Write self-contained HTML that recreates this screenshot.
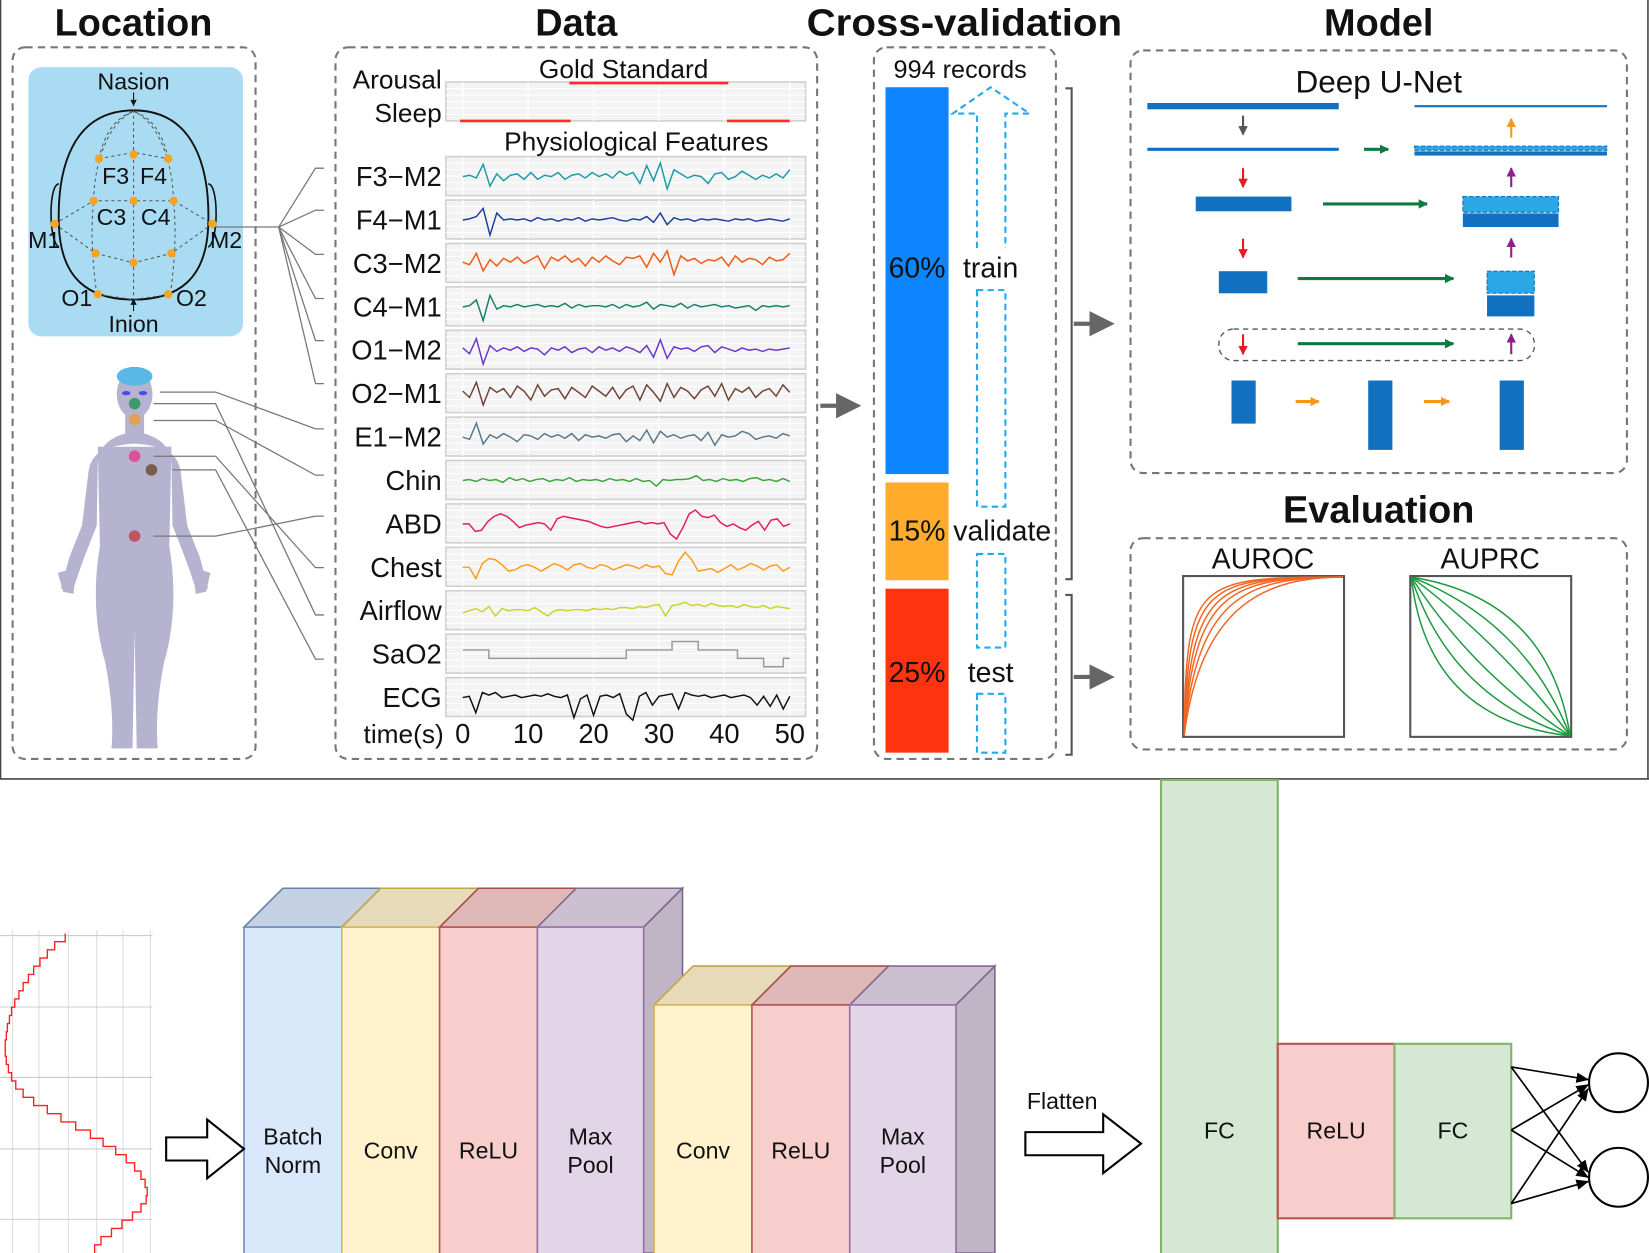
<!DOCTYPE html>
<html><head><meta charset="utf-8"><style>
html,body{margin:0;padding:0;background:#fff;}
svg{display:block;font-family:"Liberation Sans",Arial,sans-serif;}
</style></head><body>
<svg id="fig" width="1649" height="1253" viewBox="0 0 1568 1192" preserveAspectRatio="none" xmlns="http://www.w3.org/2000/svg">
<defs>
<marker id="ag" markerWidth="6" markerHeight="6" refX="5" refY="3" orient="auto"><path d="M0,0L6,3L0,6z" fill="#666"/></marker>
<marker id="sg" markerUnits="userSpaceOnUse" markerWidth="9" markerHeight="9" refX="8" refY="4.5" orient="auto"><path d="M0,0L9,4.5L0,9z" fill="#555"/></marker>
<marker id="sr" markerUnits="userSpaceOnUse" markerWidth="9" markerHeight="9" refX="8" refY="4.5" orient="auto"><path d="M0,0L9,4.5L0,9z" fill="#e51c23"/></marker>
<marker id="sp" markerUnits="userSpaceOnUse" markerWidth="9" markerHeight="9" refX="8" refY="4.5" orient="auto"><path d="M0,0L9,4.5L0,9z" fill="#8e1f8e"/></marker>
<marker id="so" markerUnits="userSpaceOnUse" markerWidth="9" markerHeight="9" refX="8" refY="4.5" orient="auto"><path d="M0,0L9,4.5L0,9z" fill="#f39a1d"/></marker>
<marker id="sgr" markerUnits="userSpaceOnUse" markerWidth="9" markerHeight="9" refX="8" refY="4.5" orient="auto"><path d="M0,0L9,4.5L0,9z" fill="#0d7a3e"/></marker>
<marker id="ak" markerUnits="userSpaceOnUse" markerWidth="12" markerHeight="10" refX="11" refY="5" orient="auto"><path d="M0,0L12,5L0,10z" fill="#000"/></marker>
</defs>
<g>
<line x1="0.5" y1="0" x2="0.5" y2="741" stroke="#444" stroke-width="1.5"/>
<line x1="0" y1="741" x2="1568" y2="741" stroke="#444" stroke-width="1.5"/>
<line x1="1567" y1="0" x2="1567" y2="741" stroke="#444" stroke-width="1.5"/>
</g>
<g font-weight="bold" font-size="36" text-anchor="middle" fill="#111">
<text x="127" y="34">Location</text>
<text x="548" y="34">Data</text>
<text x="917" y="34" textLength="300" lengthAdjust="spacingAndGlyphs">Cross-validation</text>
<text x="1311" y="34">Model</text>
<text x="1311" y="497">Evaluation</text>
</g>
<g fill="none" stroke="#777" stroke-width="2" stroke-dasharray="7,5">
<rect x="12" y="45" width="231" height="677" rx="12"/>
<rect x="319" y="45" width="458" height="677" rx="12"/>
<rect x="831" y="45" width="173" height="677" rx="12"/>
<rect x="1075" y="48" width="472" height="402" rx="12"/>
<rect x="1075" y="512" width="472" height="201" rx="12"/>
</g>

<g>
<rect x="27" y="64" width="204" height="256" rx="12" fill="#a9dcf2"/>
<path d="M127,105 C185,105 200,160 198,215 C196,265 170,285 127,285 C84,285 58,265 56,215 C54,160 69,105 127,105Z" fill="none" stroke="#111" stroke-width="1.8"/>
<path d="M56,175 C46,175 46,230 56,235" fill="none" stroke="#111" stroke-width="1.5"/>
<path d="M198,175 C208,175 208,230 198,235" fill="none" stroke="#111" stroke-width="1.5"/>
<g fill="none" stroke="#555" stroke-width="1" stroke-dasharray="3,3">
<line x1="127" y1="92" x2="127" y2="290"/>
<path d="M94,151 C100,125 110,112 127,106 C144,112 154,125 160,151"/>
<path d="M89,191 C90,150 105,115 127,106 C149,115 164,150 165,191"/>
<path d="M92,280 C88,250 86,220 89,191 M162,280 C166,250 168,220 165,191"/>
<path d="M94,151 L127,145 L160,151"/>
<path d="M52,213 L89,191 L127,191 L165,191 L202,213"/>
<path d="M52,213 L91,241 L127,250 L163,241 L202,213"/>
<path d="M92,280 L127,285 L162,280"/>
</g>
<line x1="127" y1="88" x2="127" y2="100" stroke="#111"/><path d="M124,95 L127,101 L130,95" fill="#111"/>
<line x1="127" y1="285" x2="127" y2="296" stroke="#111"/><path d="M124,290 L127,284 L130,290" fill="#111"/>
<g fill="#f5a524">
<circle cx="94" cy="151" r="4"/><circle cx="127" cy="147" r="4"/><circle cx="160" cy="151" r="4"/>
<circle cx="89" cy="191" r="4"/><circle cx="127" cy="191" r="4"/><circle cx="165" cy="191" r="4"/>
<circle cx="52" cy="213" r="4"/><circle cx="202" cy="213" r="4"/>
<circle cx="91" cy="241" r="4"/><circle cx="127" cy="250" r="4"/><circle cx="163" cy="241" r="4"/>
<circle cx="93" cy="280" r="4"/><circle cx="160" cy="280" r="4"/>
</g>
<g font-size="22" fill="#111" text-anchor="middle">
<text x="127" y="85">Nasion</text><text x="127" y="316">Inion</text>
<text x="110" y="175">F3</text><text x="146" y="175">F4</text>
<text x="106" y="214">C3</text><text x="148" y="214">C4</text>
<text x="42" y="236">M1</text><text x="215" y="236">M2</text>
<text x="73" y="291">O1</text><text x="182" y="291">O2</text>
</g>
</g>

<g fill="#b6b3d1">
<ellipse cx="128" cy="375" rx="17" ry="23"/>
<rect x="119" y="390" width="18" height="30"/>
<path d="M128,410 C146,414 161,420 163,440 L164,500 C172,520 180,540 186,560 L198,560 L190,530 L178,500 L172,450 C170,432 158,424 128,422 C98,424 86,432 84,450 L78,500 L66,530 L58,560 L70,560 C76,540 84,520 92,500 L93,440 C95,420 110,414 128,410Z"/>
<path d="M93,425 L163,425 L161,520 C168,560 165,600 156,630 C150,660 148,690 150,712 L130,712 L128,600 L126,712 L106,712 C108,690 106,660 100,630 C91,600 88,560 95,520 Z"/>
<path d="M55,545 L72,540 L70,565 L60,563 Z M200,545 L184,540 L186,565 L196,563 Z"/>
<ellipse cx="128" cy="358" rx="17" ry="9" fill="#5bb8e6"/>
<ellipse cx="120" cy="374" rx="4" ry="2" fill="#4a4aee"/><ellipse cx="136" cy="374" rx="4" ry="2" fill="#4a4aee"/>
<circle cx="128" cy="384" r="5.5" fill="#3d9a6a"/>
<circle cx="128" cy="399" r="5.5" fill="#e2a057"/>
<circle cx="128" cy="434" r="5.5" fill="#dd4f96"/>
<circle cx="144" cy="447" r="5.5" fill="#7a5c4c"/>
<circle cx="128" cy="510" r="5.5" fill="#c0555e"/>
</g>

<g fill="none" stroke="#777" stroke-width="1.2">
<path d="M205,216 L265,216 L300,160 L308,160"/>
<path d="M265,216 L300,200 L308,200"/>
<path d="M265,216 L300,242 L308,242"/>
<path d="M265,216 L300,284 L308,284"/>
<path d="M265,216 L300,324 L308,324"/>
<path d="M265,216 L300,365 L308,365"/>
<path d="M152,373 L205,373 L300,408 L308,408"/>
<path d="M146,384 L205,384 L300,585 L308,585"/>
<path d="M146,400 L205,400 L300,452 L308,452"/>
<path d="M146,434 L205,434 L300,540 L308,540"/>
<path d="M164,447 L205,447 L300,627 L308,627"/>
<path d="M146,510 L205,510 L300,491 L308,491"/>
</g>

<g id="data-panels"></g>
<g font-size="25" fill="#111">
<text x="420" y="84" text-anchor="end">Arousal</text>
<text x="420" y="116" text-anchor="end">Sleep</text>
<text x="593" y="74" text-anchor="middle">Gold Standard</text>
<text x="605" y="143" text-anchor="middle">Physiological Features</text>
<text x="422" y="707" text-anchor="end">time(s)</text>
</g>
<line x1="780" y1="386" x2="815" y2="386" stroke="#666" stroke-width="4" marker-end="url(#ag)"/>

<g>
<text x="913" y="74" font-size="24" text-anchor="middle" fill="#111">994 records</text>
<rect x="842" y="83" width="60" height="368" fill="#0d85ff"/>
<rect x="842" y="459" width="60" height="93" fill="#ffab2b"/>
<rect x="842" y="560" width="60" height="156" fill="#ff330f"/>
<g fill="none" stroke="#22aaee" stroke-width="2" stroke-dasharray="6,4">
<path d="M929,236 L929,108 L906,108 L942,83 L979,108 L956,108 L956,236"/>
<rect x="929" y="276" width="27" height="206"/>
<rect x="929" y="527" width="27" height="89"/>
<rect x="929" y="660" width="27" height="56"/>
</g>
<g font-size="27" fill="#111" text-anchor="middle">
<text x="872" y="264">60%</text><text x="942" y="264">train</text>
<text x="872" y="514">15%</text><text x="953" y="514">validate</text>
<text x="872" y="649">25%</text><text x="942" y="649">test</text>
</g>
<g stroke="#555" stroke-width="2" fill="none">
<path d="M1013,84 L1019,84 L1019,551 L1013,551 M1013,566 L1019,566 L1019,718 L1013,718"/>
</g>
<line x1="1021" y1="308" x2="1056" y2="308" stroke="#666" stroke-width="4" marker-end="url(#ag)"/>
<line x1="1021" y1="644" x2="1056" y2="644" stroke="#666" stroke-width="4" marker-end="url(#ag)"/>
</g>

<g>
<text x="1311" y="88" font-size="30" text-anchor="middle" fill="#111">Deep U-Net</text>
<rect x="1091" y="98" width="182" height="6" fill="#1170c0"/>
<line x1="1345" y1="101" x2="1528" y2="101" stroke="#1170c0" stroke-width="2"/>
<line x1="1091" y1="142" x2="1273" y2="142" stroke="#1170c0" stroke-width="3"/>
<rect x="1345" y="139" width="183" height="4" fill="#2ba7e6" stroke="#1170c0" stroke-dasharray="4,2"/>
<rect x="1345" y="144" width="183" height="4" fill="#1170c0"/>
<rect x="1137" y="187" width="91" height="14" fill="#1170c0"/>
<rect x="1391" y="187" width="91" height="15" fill="#2ba7e6" stroke="#1170c0" stroke-dasharray="4,2"/>
<rect x="1391" y="203" width="91" height="13" fill="#1170c0"/>
<rect x="1159" y="258" width="46" height="21" fill="#1170c0"/>
<rect x="1414" y="258" width="45" height="21" fill="#2ba7e6" stroke="#1170c0" stroke-dasharray="4,2"/>
<rect x="1414" y="281" width="45" height="20" fill="#1170c0"/>
<rect x="1159" y="313" width="300" height="30" rx="14" fill="none" stroke="#555" stroke-width="1.3" stroke-dasharray="5,4"/>
<rect x="1171" y="362" width="23" height="41" fill="#1170c0"/>
<rect x="1301" y="362" width="23" height="66" fill="#1170c0"/>
<rect x="1426" y="362" width="23" height="66" fill="#1170c0"/>
<g stroke-width="2">
<line x1="1182" y1="110" x2="1182" y2="128" stroke="#555" marker-end="url(#sg)"/>
<line x1="1437" y1="131" x2="1437" y2="113" stroke="#f39a1d" marker-end="url(#so)"/>
<line x1="1182" y1="160" x2="1182" y2="178" stroke="#e51c23" marker-end="url(#sr)"/>
<line x1="1437" y1="178" x2="1437" y2="160" stroke="#8e1f8e" marker-end="url(#sp)"/>
<line x1="1182" y1="227" x2="1182" y2="245" stroke="#e51c23" marker-end="url(#sr)"/>
<line x1="1437" y1="245" x2="1437" y2="227" stroke="#8e1f8e" marker-end="url(#sp)"/>
<line x1="1182" y1="318" x2="1182" y2="337" stroke="#e51c23" marker-end="url(#sr)"/>
<line x1="1437" y1="337" x2="1437" y2="318" stroke="#8e1f8e" marker-end="url(#sp)"/>
<line x1="1297" y1="142" x2="1320" y2="142" stroke="#0d7a3e" stroke-width="3" marker-end="url(#sgr)"/>
<line x1="1258" y1="194" x2="1357" y2="194" stroke="#0d7a3e" stroke-width="3" marker-end="url(#sgr)"/>
<line x1="1234" y1="265" x2="1382" y2="265" stroke="#0d7a3e" stroke-width="3" marker-end="url(#sgr)"/>
<line x1="1234" y1="327" x2="1382" y2="327" stroke="#0d7a3e" stroke-width="3" marker-end="url(#sgr)"/>
<line x1="1232" y1="382" x2="1254" y2="382" stroke="#f39a1d" stroke-width="3" marker-end="url(#so)"/>
<line x1="1354" y1="382" x2="1378" y2="382" stroke="#f39a1d" stroke-width="3" marker-end="url(#so)"/>
</g>
</g>

<g>
<text x="1201" y="541" font-size="27" text-anchor="middle" fill="#111">AUROC</text>
<text x="1417" y="541" font-size="27" text-anchor="middle" fill="#111">AUPRC</text>
<rect x="1125" y="548" width="153" height="153" fill="#fff" stroke="#555" stroke-width="2"/>
<rect x="1341" y="548" width="153" height="153" fill="#fff" stroke="#555" stroke-width="2"/>
<g id="roc" fill="none" stroke="#f26522" stroke-width="1.4"></g>
<g id="prc" fill="none" stroke="#1a9a3e" stroke-width="1.4"></g>
</g>

<g id="steps"></g>
<g id="blocks"></g>
<g fill="#fff" stroke="#000" stroke-width="2">
<path d="M158,1082 L197,1082 L197,1065 L232,1093 L197,1121 L197,1104 L158,1104 Z"/>
<path d="M975,1077 L1049,1077 L1049,1060 L1085,1088 L1049,1116 L1049,1099 L975,1099 Z"/>
</g>
<text x="1010" y="1055" font-size="22" text-anchor="middle" fill="#111">Flatten</text>
<g>
<circle cx="1539" cy="1030" r="28" fill="#fff" stroke="#000" stroke-width="2"/>
<circle cx="1539" cy="1120" r="28" fill="#fff" stroke="#000" stroke-width="2"/>
<g stroke="#000" stroke-width="1.6" marker-end="url(#ak)">
<line x1="1437" y1="1015" x2="1510" y2="1027"/><line x1="1437" y1="1015" x2="1510" y2="1115"/>
<line x1="1437" y1="1075" x2="1510" y2="1032"/><line x1="1437" y1="1075" x2="1510" y2="1120"/>
<line x1="1437" y1="1145" x2="1510" y2="1036"/><line x1="1437" y1="1145" x2="1510" y2="1124"/>
</g>
</g>
</svg>
<script>
const NS="http://www.w3.org/2000/svg";
function mk(tag,attrs,parent){const e=document.createElementNS(NS,tag);for(const k in attrs)e.setAttribute(k,attrs[k]);parent.appendChild(e);return e;}

const signalNames=["F3−M2","F4−M1","C3−M2","C4−M1","O1−M2","O2−M1","E1−M2","Chin","ABD","Chest","Airflow","SaO2","ECG"];
const signalColors=["#1a9ca8","#1a3fa0","#f05a10","#17806a","#6a35c9","#6e4535","#557788","#3aa53a","#e8195a","#ff9a1a","#c8d42a","#999999","#111111"];
const sF3=[0,.1,-.1,.9,-.7,.2,-.3,.1,.2,-.2,.3,-.2,.1,0,.3,-.2,.1,.2,-.1,.3,0,.2,-.1,.4,.1,.3,-.5,.8,-.3,1,-.9,.5,.2,-.1,.1,0,-.5,.2,.3,-.2,0,.4,.1,-.2,.1,-.1,.2,-.1,.5];
const sF4=[0,.1,.3,1,-1.3,.6,0,.1,0,.1,-.1,.2,0,.1,-.1,.1,0,.2,-.1,.1,0,.1,.2,0,-.1,.1,0,.3,-.2,.6,-.4,.2,0,.1,-.1,.1,0,.1,0,-.1,.1,0,.1,-.1,0,.1,0,-.1,.1];
const sC3=[.1,-.1,.8,-.6,.3,-.2,.4,.1,.5,0,.3,.6,-.4,.5,.2,.6,.1,.4,-.2,.5,.1,.6,.2,-.1,.5,.4,.6,-.3,.8,.1,1,-.9,.6,.2,.4,0,.3,.2,.5,-.2,.6,.1,.4,.3,-.1,.5,.2,.3,.8];
const sC4=[0,.1,.6,-1.2,1,-.2,.1,0,.2,0,.1,.2,0,.1,0,.3,-.1,.2,0,.1,.1,0,.2,-.1,.2,0,.1,.4,-.2,.2,.1,0,.3,-.1,.2,0,.1,.2,0,.1,-.1,0,.1,-.3,.1,0,.1,0,.1];
const sO1=[.2,-.3,1,-1.2,.4,-.1,.2,0,.3,-.1,.2,.1,-.4,.2,0,.3,-.2,.1,.2,-.2,.3,0,.2,-.1,.3,.1,-.2,.4,-.6,.9,-.7,.3,.1,.2,-.1,.3,.4,-.2,.3,.1,-.1,.2,0,.1,-.1,.1,0,.1,.2];
const sO2=[.2,-.3,.9,-.9,.5,.1,.4,-.3,.6,.2,-.5,.7,-.2,.3,.4,-.4,.5,.1,-.3,.6,.2,-.2,.5,-.4,.3,.6,-.5,.7,.1,-.6,.8,-.3,.5,.2,-.4,.3,.6,-.2,.8,-.5,.4,.1,.5,-.3,.2,.4,-.2,.7,.1];
const sE1=[0,-.2,1.2,-.6,.2,-.1,.3,0,-.4,.2,.1,-.2,.3,0,.2,-.1,.3,-.3,.2,0,.1,-.1,.2,.3,-.4,.1,-.3,.6,-.5,.5,0,.2,-.1,.1,.2,-.3,.4,-.7,.2,0,.1,.5,.3,-.2,0,.1,-.1,.3,.1];
const sChin=[0,.1,-.1,.2,0,.1,-.2,.3,0,.2,-.1,.1,.2,-.1,.1,0,.3,-.1,.1,0,.1,-.1,.2,0,.1,-.1,.2,-.1,0,-.6,.1,0,.1,.1,.2,.5,0,.1,-.1,.2,0,.1,-.1,.2,.3,0,.1,-.1,.2,-.1];
const sABD=[0,0,-.6,-.5,.2,.6,.8,.6,.2,-.3,-.1,0,.1,0,-.5,.4,.6,.5,.4,.3,.2,0,-.2,-.3,-.2,-.1,0,.1,.2,0,.1,0,.1,-.8,-1.2,-.3,.8,1.1,.6,.5,.7,.1,-.2,0,-.3,-.5,-.1,.2,-.5,.3,.4,-.2,0];
const sChest=[0,0,-.9,.3,.7,.6,.2,-.3,-.2,.1,.2,0,-.3,0,.3,.1,-.2,.2,.3,0,-.1,.2,.1,-.2,0,.2,.1,-.1,.2,0,.1,-.5,-.6,.5,1.2,.6,-.3,-.2,-.1,-.4,-.1,.2,-.2,0,.3,.1,-.2,.1,.2,-.3,0];
const sAir=[-.2,0,.2,-.1,.4,-.5,.2,0,.1,.1,0,.3,-.1,-.5,0,.1,0,.1,.1,0,.2,.1,.2,.1,.3,.3,.2,.4,.3,.5,.6,-.5,.5,.6,.8,.5,.6,.4,.7,.5,.4,.5,.3,.6,.4,.3,.5,.2,.4,.3,.2];
const sSaO2=[.5,.5,.5,.5,-.5,-.5,-.5,-.5,-.5,-.5,-.5,-.5,-.5,-.5,-.5,-.5,-.5,-.5,-.5,-.5,-.5,-.5,-.5,-.5,-.5,.5,.5,.5,.5,.5,.5,.5,1.5,1.5,1.5,1.5,.5,.5,.5,.5,.5,.5,-.5,-.5,-.5,-.5,-1.5,-1.5,-1.5,-.5,-.5];
const sECG=[0,.1,-1.2,.4,.2,.4,0,.1,.2,0,.1,.2,.1,.3,.1,0,.2,-1.6,-.1,.2,-1.4,.1,.2,0,.3,-1.3,-1.8,.1,.4,-.6,.1,.2,.3,-.9,.4,.2,.1,.2,0,.1,.2,0,.1,.2,0,-.6,.1,-.7,.2,-.9,.1];
const signals=[sF3,sF4,sC3,sC4,sO1,sO2,sE1,sChin,sABD,sChest,sAir,sSaO2,sECG];
const signalAmp=[13,11,12,11,11,12,11,9,12,12,10,8,12];
const timeTicks=[0,10,20,30,40,50];
const arousalSegs=[[16.3,40.6]];
const sleepSegs=[[-0.4,16.5],[40.4,50]];

const tx=t=>440+t*(751-440)/50;
const rowY=i=>168+i*41.3;
const dp=document.getElementById('data-panels');
function panel(y0,h){
  const r=mk('rect',{x:424,y:y0,width:342,height:h,fill:'#f3f3f3',stroke:'#cfcfcf','stroke-width':1.5},dp);
  
  
  for(let k=1;k<6;k++)mk('line',{x1:424,x2:766,y1:y0+h*k/6,y2:y0+h*k/6,stroke:'#fff','stroke-width':1},dp);
  timeTicks.forEach(t=>mk('line',{x1:tx(t),x2:tx(t),y1:y0,y2:y0+h,stroke:'#fff','stroke-width':1.2},dp));
}
panel(78,37);
arousalSegs.forEach(s=>{const l=mk('line',{x1:tx(s[0]),x2:tx(s[1]),y1:79,y2:79,stroke:'#ff2a2a','stroke-width':2.5},dp);
  
  });
sleepSegs.forEach(s=>{const l=mk('line',{x1:tx(s[0]),x2:tx(s[1]),y1:115,y2:115,stroke:'#ff2a2a','stroke-width':2.5},dp);
  
  });
signals.forEach((arr,i)=>{
  const cy=rowY(i);
  panel(cy-19,37);
  let d='';
  const step=i===11;
  arr.forEach((v,j)=>{
    const x=tx(j*50/(arr.length-1)), y=cy-v*signalAmp[i];
    if(j===0)d='M'+x+','+y;
    else if(step){const py=cy-arr[j-1]*signalAmp[i];d+=' L'+x+','+py+' L'+x+','+y;}
    else d+=' L'+x+','+y;
  });
  const p=mk('path',{d:d,fill:'none',stroke:signalColors[i],'stroke-width':1.4},dp);
  
  
  const t=mk('text',{x:420,y:cy+9,'font-size':26,'text-anchor':'end',fill:'#111'},dp);
  t.textContent=signalNames[i];
  
  
});
timeTicks.forEach(t=>{const e=mk('text',{x:tx(t),y:707,'font-size':26,'text-anchor':'middle',fill:'#111'},dp);e.textContent=t;
  
  });

const rocBend=[0.05,0.1,0.16,0.22,0.3,0.4];
const prcBend=[-0.55,-0.35,-0.15,0.1,0.3,0.5];
const roc=document.getElementById('roc'),prc=document.getElementById('prc');
rocBend.forEach(b=>{const x0=1126,y0=700,x1=1277,y1=549;
  const c=mk('path',{d:`M${x0},${y0} C${x0+b*40},${y1+b*60} ${x0+b*200},${y1} ${x1},${y1}`},roc);
  
  });
prcBend.forEach(b=>{const x0=1342,y0=549,x1=1493,y1=700,mx=(x0+x1)/2,my=(y0+y1)/2;
  const cx=mx+b*110,cy=my-b*110;
  const c=mk('path',{d:`M${x0},${y0} Q${cx},${cy} ${x1},${y1}`},prc);
  
  });

const stepVals=[62,52,45,38,32,27,22,18,14,11,9,7,6,5,5,6,8,11,15,22,32,45,58,72,86,98,110,120,128,134,138,140,139,134,126,116,106,96,90];
const st=document.getElementById('steps');
[12,37,65,92,117,143].forEach(x=>mk('line',{x1:x,x2:x,y1:885,y2:1192,stroke:'#ddd'},st));
[890,958,1025,1093,1160].forEach(y=>mk('line',{x1:0,x2:145,y1:y,y2:y,stroke:'#ccc'},st));
let sd='';const sh=(1192-888)/stepVals.length;
stepVals.forEach((v,j)=>{const y=888+j*sh;sd+=(j?' L'+v+','+y:'M'+v+','+y)+' L'+v+','+(y+sh);});
const sp=mk('path',{d:sd,fill:'none',stroke:'#ff2020','stroke-width':1.3},st);



const bl=document.getElementById('blocks');
function block(x,w,top,fill,stroke,label,side,dx){
  const g=mk('g',{},bl);
  
  
  mk('path',{d:`M${x},${top} L${x+dx},${top-dx} L${x+w+dx},${top-dx} L${x+w},${top}Z`,fill:fill,stroke:stroke,'stroke-width':1.5,style:'filter:brightness(0.9)'},g);
  if(side)mk('path',{d:`M${x+w},${top} L${x+w+dx},${top-dx} L${x+w+dx},1192 L${x+w},1192Z`,fill:fill,stroke:stroke,'stroke-width':1.5,style:'filter:brightness(0.85)'},g);
  mk('rect',{x:x,y:top,width:w,height:1192-top+2,fill:fill,stroke:stroke,'stroke-width':1.5},g);
  const lines=label.split('\n');
  lines.forEach((s,k)=>{const t=mk('text',{x:x+w/2,y:(lines.length>1?1089:1102)+k*27,'font-size':22,'text-anchor':'middle',fill:'#111'},g);t.textContent=s;});
}
block(232,93,882,'#dae8fc','#6c8ebf','Batch\nNorm',false,37);
block(325,93,882,'#fff2cc','#d6b656','Conv',false,37);
block(418,93,882,'#f8cecc','#b85450','ReLU',false,37);
block(511,101,882,'#e1d5e7','#9673a6','Max\nPool',true,37);
block(622,93,956,'#fff2cc','#d6b656','Conv',false,37);
block(715,93,956,'#f8cecc','#b85450','ReLU',false,37);
block(808,101,956,'#e1d5e7','#9673a6','Max\nPool',true,37);
function flat(x,y,w,h,fill,stroke,label){
  const r=mk('rect',{x:x,y:y,width:w,height:h,fill:fill,stroke:stroke,'stroke-width':2},bl);
  
  
  const t=mk('text',{x:x+w/2,y:1083,'font-size':22,'text-anchor':'middle',fill:'#111'},bl);t.textContent=label;
}
flat(1104,742,111,452,'#d5e8d4','#82b366','FC');
flat(1215,993,111,166,'#f8cecc','#b85450','ReLU');
flat(1326,993,111,166,'#d5e8d4','#82b366','FC');
</script>
</body></html>
